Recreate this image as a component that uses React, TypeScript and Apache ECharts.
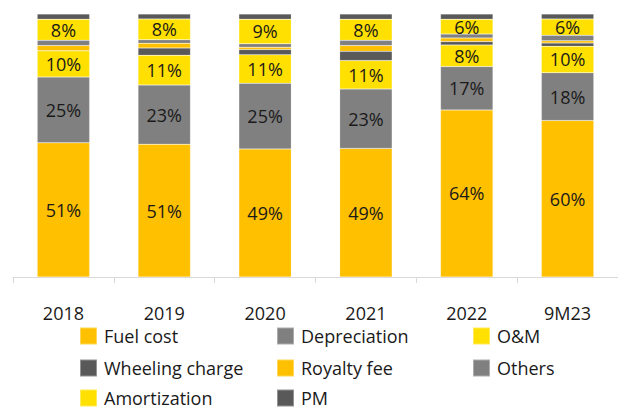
import React, { useEffect, useRef } from "react";
import * as echarts from "echarts";

const categories = ["2018", "2019", "2020", "2021", "2022", "9M23"];
const fuelCost = [51, 50.5, 48.7, 48.9, 63.5, 59.5];
const depreciation = [25, 22.5, 25, 22.6, 16.5, 18.2];
const oAndM = [10, 11.3, 10.8, 10.8, 8.2, 10];
const wheelingCharge = [0, 2.8, 2, 3.5, 1.3, 1.3];
const royaltyFee = [2, 1.8, 0.9, 2.2, 1.4, 0.8];
const others = [2, 1.3, 1.3, 2, 1.5, 2.1];
const amortization = [8, 7.9, 9.3, 8, 5.6, 6.2];
const pm = [2, 1.9, 2, 2, 2, 1.9];

const seriesNames = [
  "Fuel cost",
  "Depreciation",
  "O&M",
  "Wheeling charge",
  "Royalty fee",
  "Others",
  "Amortization",
  "PM",
];
const seriesData = [fuelCost, depreciation, oAndM, wheelingCharge, royaltyFee, others, amortization, pm];
const seriesColors = ["#FFC000", "#808080", "#FFE000", "#595959", "#FFC000", "#808080", "#FFE000", "#595959"];
const labelled = [true, true, true, false, false, false, true, false];

const FONT = "'Open Sans', Roboto, sans-serif";

export default function App() {
  const ref = useRef<HTMLDivElement>(null);
  useEffect(() => {
    if (!ref.current) return;
    const chart = echarts.init(ref.current, undefined, { renderer: "svg" });
    const colX = [79, 276, 472];
    const rowY = [335, 367, 397];
    const legends = seriesNames.map((name, i) => ({
      left: colX[i % 3],
      top: rowY[Math.floor(i / 3)] - 8.5,
      padding: 0,
      itemWidth: 17,
      itemHeight: 17,
      itemGap: 0,
      icon: "rect",
      data: [name],
      selectedMode: false,
      textStyle: { fontFamily: FONT, fontSize: 18, lineHeight: 17, color: "#1a1a1a", padding: [0, 0, 0, 2] },
    }));
    chart.setOption({
      animation: false,
      textStyle: { fontFamily: FONT },
      grid: { left: 13, right: 0, top: 14, bottom: 133, containLabel: false },
      legend: legends,
      xAxis: {
        type: "category",
        data: categories,
        axisLine: { show: true, lineStyle: { color: "#d9d9d9", width: 1 } },
        axisTick: { show: true, length: 6, lineStyle: { color: "#d9d9d9" } },
        axisLabel: { fontFamily: FONT, fontSize: 18, color: "#1a1a1a", margin: 27 },
      },
      yAxis: { type: "value", min: 0, max: 100, show: false, splitLine: { show: false } },
      series: seriesNames.map((name, i) => ({
        name,
        type: "bar",
        stack: "total",
        barWidth: "52%",
        data: seriesData[i],
        itemStyle: { color: seriesColors[i], borderColor: "rgba(255,255,255,0.35)", borderWidth: 0.5 },
        label: {
          show: labelled[i],
          position: "inside",
          fontFamily: FONT,
          fontSize: 18,
          color: "#1a1a1a",
          formatter: (p: any) => Math.round(p.value) + "%",
        },
      })),
    });
    return () => chart.dispose();
  }, []);
  return (
    <div
      ref={ref}
      style={{ position: "fixed", left: 0, top: 0, width: 618, height: 410, background: "#fff" }}
    />
  );
}
